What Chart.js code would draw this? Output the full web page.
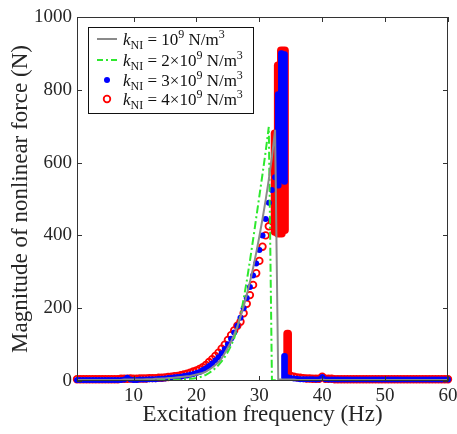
<!DOCTYPE html>
<html>
<head>
<meta charset="utf-8">
<script src="https://cdn.jsdelivr.net/npm/chart.js@4.4.1/dist/chart.umd.min.js"></script>
<style>
  html, body { margin: 0; padding: 0; background: #fff; }
  #wrap { width: 457px; height: 434px; }
</style>
</head>
<body>
<div id="wrap"><canvas id="forceChart" width="457" height="434"></canvas></div>
<script>
// excitation frequency (Hz), 0.5 Hz steps
const freq = [
  1, 1.5, 2, 2.5, 3, 3.5, 4, 4.5, 5, 5.5,
  6, 6.5, 7, 7.5, 8, 8.5, 9, 9.5, 10, 10.5,
  11, 11.5, 12, 12.5, 13, 13.5, 14, 14.5, 15, 15.5,
  16, 16.5, 17, 17.5, 18, 18.5, 19, 19.5, 20, 20.5,
  21, 21.5, 22, 22.5, 23, 23.5, 24, 24.5, 25, 25.5,
  26, 26.5, 27, 27.5, 28, 28.5, 29, 29.5, 30, 30.5,
  31, 31.5, 32, 32.5, 33, 33.5, 34, 34.5, 35, 35.5,
  36, 36.5, 37, 37.5, 38, 38.5, 39, 39.5, 40, 40.5,
  41, 41.5, 42, 42.5, 43, 43.5, 44, 44.5, 45, 45.5,
  46, 46.5, 47, 47.5, 48, 48.5, 49, 49.5, 50, 50.5,
  51, 51.5, 52, 52.5, 53, 53.5, 54, 54.5, 55, 55.5,
  56, 56.5, 57, 57.5, 58, 58.5, 59, 59.5, 60
];

// k_NI = 1e9 N/m^3 (grey line)
const force1 = [
  3, 3, 3, 3, 3, 3, 3, 3, 3, 3,
  3, 3, 3, 3, 3, 4, 4, 4, 4, 4,
  4, 4, 5, 5, 5, 6, 6, 7, 7, 8,
  8, 9, 10, 11, 12, 13, 14, 16, 18, 20,
  22, 26, 31, 37, 44, 52, 62, 76, 92, 108,
  128, 150, 176, 205, 237, 272, 310, 352, 397, 445,
  497, 553, 615, 690, 5, 4, 4, 4, 4, 4,
  3, 3, 3, 3, 3, 3, 3, 3, 4, 3,
  3, 3, 3, 3, 3, 3, 3, 3, 3, 3,
  3, 3, 3, 3, 3, 3, 3, 3, 3, 3,
  3, 3, 3, 3, 3, 3, 3, 3, 3, 3,
  3, 3, 3, 3, 3, 3, 3, 3, 3
];

// k_NI = 2e9 N/m^3 (green dash-dot)
const force2 = [
  2, 2, 2, 2, 2, 2, 2, 2, 2, 2,
  2, 2, 2, 2, 2, 2, 2, 2, 2, 2,
  2, 2, 2, 2, 2, 2, 3, 3, 3, 3,
  3, 3, 4, 4, 5, 5, 6, 7, 8, 10,
  13, 17, 22, 28, 35, 44, 54, 66, 80, 97,
  118, 148, 180, 225, 275, 330, 388, 448, 508, 568,
  630, 698, 3, 2, 2, 2, 2, 2, 2, 2,
  2, 2, 2, 2, 2, 2, 2, 2, 2, 2,
  2, 2, 2, 2, 2, 2, 2, 2, 2, 2,
  2, 2, 2, 2, 2, 2, 2, 2, 2, 2,
  2, 2, 2, 2, 2, 2, 2, 2, 2, 2,
  2, 2, 2, 2, 2, 2, 2, 2, 2
];

// k_NI = 3e9 N/m^3 (blue dots), null where the jump band is drawn
const force3 = [
  3, 3, 3, 3, 3, 3, 3, 3, 3, 3,
  3, 3, 3, 3, 3, 4, 9, 4, 3, 3,
  4, 4, 4, 5, 5, 5, 6, 6, 7, 8,
  9, 10, 11, 12, 14, 15, 17, 19, 22, 25,
  30, 35, 41, 48, 56, 65, 76, 88, 101, 116,
  133, 152, 174, 200, 228, 258, 290, 323, 360, 400,
  445, 490, 525, 560, null, null, null, 10, 8, 7,
  6, 5, 5, 5, 5, 5, 4, 5, 11, 5,
  4, 4, 4, 4, 4, 4, 4, 4, 4, 4,
  4, 4, 4, 4, 4, 4, 4, 4, 4, 4,
  4, 4, 4, 4, 4, 4, 4, 4, 4, 4,
  4, 4, 4, 4, 4, 4, 4, 4, 4
];

// k_NI = 4e9 N/m^3 (red open circles)
const force4 = [
  5, 5, 5, 5, 5, 5, 5, 5, 5, 5,
  5, 5, 5, 5, 6, 6, 6, 7, 6, 6,
  7, 7, 7, 8, 8, 8, 9, 9, 10, 11,
  12, 13, 14, 16, 18, 20, 23, 26, 29, 33,
  38, 44, 52, 60, 69, 78, 89, 100, 113, 126,
  139, 152, 163, 186, 212, 236, 264, 296, 330, 369,
  400, 425, 440, null, null, null, null, null, 14, 12,
  10, 9, 8, 7, 7, 6, 6, 6, 12, 6,
  6, 6, 5, 5, 5, 5, 5, 5, 5, 5,
  5, 5, 5, 5, 5, 5, 5, 5, 5, 5,
  5, 5, 5, 5, 5, 5, 5, 5, 5, 5,
  5, 5, 5, 5, 5, 5, 5, 5, 5
];

// jump region: range of values stacked at one frequency
const band3Freq = [33, 33.5, 34, 34];
const band3Low = [530, 545, 540, 2];
const band3High = [795, 908, 905, 76];
const band4Freq = [32.5, 33, 33.5, 34, 34.5];
const band4Low = [400, 395, 395, 405, 2];
const band4High = [690, 877, 918, 918, 140];

const xTicks = [10, 20, 30, 40, 50, 60];
const yTicks = [0, 200, 400, 600, 800, 1000];
const legendCoef = ['', '2\u00d7', '3\u00d7', '4\u00d7'];

const serif = "'Liberation Serif', 'Times New Roman', serif";
const GREY = '#8a8a8a', GREEN = '#2ee82e', BLUE = '#0000ff', RED = '#ff0000';
Chart.defaults.font.family = serif;
Chart.defaults.color = '#262626';

const pairs = vals => freq.map((f, i) => ({ x: f, y: vals[i] }));
const ranges = (fs, lo, hi) => fs.map((f, i) => ({ x: f, y: [lo[i], hi[i]] }));

// box, inward ticks and the legend with sub/superscripts
const framePlugin = {
  id: 'frame',
  afterDatasetsDraw(chart) {
    const { ctx, chartArea: a, scales: { x, y } } = chart;
    ctx.save();
    ctx.strokeStyle = '#333';
    ctx.lineWidth = 1;
    ctx.strokeRect(a.left + 0.5, a.top + 0.5, a.right - a.left - 1, a.bottom - a.top - 1);
    ctx.beginPath();
    xTicks.forEach(v => {
      const p = Math.round(x.getPixelForValue(v)) + 0.5;
      ctx.moveTo(p, a.bottom); ctx.lineTo(p, a.bottom - 5);
      ctx.moveTo(p, a.top); ctx.lineTo(p, a.top + 5);
    });
    yTicks.forEach(v => {
      const p = Math.round(y.getPixelForValue(v)) + 0.5;
      ctx.moveTo(a.left, p); ctx.lineTo(a.left + 5, p);
      ctx.moveTo(a.right, p); ctx.lineTo(a.right - 5, p);
    });
    ctx.stroke();
    ctx.restore();
  },
  afterDraw(chart) {
    const ctx = chart.ctx;
    const bx = 88, by = 27, bw = 165, bh = 86;
    ctx.save();
    ctx.fillStyle = '#fff';
    ctx.fillRect(bx, by, bw, bh);
    ctx.strokeStyle = '#111';
    ctx.lineWidth = 1;
    ctx.strokeRect(bx + 0.5, by + 0.5, bw, bh);
    const rows = [39, 60, 80, 99];
    rows.forEach((ry, i) => {
      ctx.save();
      if (i === 0 || i === 1) {
        ctx.strokeStyle = i === 0 ? GREY : GREEN;
        ctx.lineWidth = 2;
        ctx.setLineDash(i === 0 ? [] : [6, 3, 2, 3]);
        ctx.beginPath(); ctx.moveTo(97, ry); ctx.lineTo(117, ry); ctx.stroke();
      } else if (i === 2) {
        ctx.fillStyle = BLUE;
        ctx.beginPath(); ctx.arc(107, ry, 3, 0, Math.PI * 2); ctx.fill();
      } else {
        ctx.strokeStyle = RED; ctx.lineWidth = 1.8;
        ctx.beginPath(); ctx.arc(107, ry, 3.3, 0, Math.PI * 2); ctx.stroke();
      }
      ctx.restore();
      const parts = [
        { t: 'k', f: 'italic 17px', dy: 0 },
        { t: 'NI', f: '12px', dy: 4 },
        { t: ' = ' + legendCoef[i] + '10', f: '17px', dy: 0 },
        { t: '9', f: '12px', dy: -7 },
        { t: ' N/m', f: '17px', dy: 0 },
        { t: '3', f: '12px', dy: -7 }
      ];
      let tx = 123;
      ctx.fillStyle = '#111';
      ctx.textBaseline = 'alphabetic';
      parts.forEach(p => {
        ctx.font = p.f + ' ' + serif;
        ctx.fillText(p.t, tx, ry + 6 + p.dy);
        tx += ctx.measureText(p.t).width;
      });
    });
    ctx.restore();
  }
};

new Chart(document.getElementById('forceChart'), {
  type: 'scatter',
  data: {
    datasets: [
      {
        label: 'k_NI = 10^9 N/m^3',
        data: pairs(force1),
        showLine: true,
        borderColor: GREY,
        borderWidth: 2,
        pointRadius: 0,
        order: 0
      },
      {
        label: 'k_NI = 2x10^9 N/m^3',
        data: pairs(force2),
        showLine: true,
        borderColor: GREEN,
        borderWidth: 2,
        borderDash: [8, 3, 2, 3],
        pointRadius: 0,
        order: 1
      },
      {
        type: 'bar',
        label: 'band 3',
        data: ranges(band3Freq, band3Low, band3High),
        backgroundColor: BLUE,
        barThickness: 6,
        grouped: false,
        borderRadius: 3,
        borderSkipped: false,
        order: 2
      },
      {
        label: 'k_NI = 3x10^9 N/m^3',
        data: pairs(force3),
        backgroundColor: BLUE,
        borderWidth: 0,
        pointRadius: 3,
        clip: 8,
        order: 3
      },
      {
        label: 'k_NI = 4x10^9 N/m^3',
        data: pairs(force4),
        backgroundColor: 'rgba(0,0,0,0)',
        borderColor: RED,
        borderWidth: 1.8,
        pointRadius: 3.3,
        clip: 8,
        order: 4
      },
      {
        type: 'bar',
        label: 'band 4',
        data: ranges(band4Freq, band4Low, band4High),
        backgroundColor: RED,
        barThickness: 8,
        grouped: false,
        borderRadius: 4,
        borderSkipped: false,
        order: 5
      }
    ]
  },
  options: {
    responsive: false,
    animation: false,
    layout: { padding: { top: 17, right: 9, left: 0, bottom: 0 } },
    plugins: { legend: { display: false }, tooltip: { enabled: false } },
    scales: {
      x: {
        type: 'linear',
        min: 1,
        max: 60,
        offset: false,
        grid: { display: false, drawTicks: false },
        border: { display: false },
        afterBuildTicks: s => { s.ticks = xTicks.map(v => ({ value: v })); },
        afterFit: s => { s.height = 53; s.paddingLeft = 0; s.paddingRight = 0; },
        ticks: { font: { family: serif, size: 19 }, padding: 4, maxRotation: 0, callback: v => String(v) },
        title: {
          display: true,
          text: 'Excitation frequency (Hz)',
          font: { family: serif, size: 23 },
          padding: { top: 0, bottom: 5 }
        }
      },
      y: {
        type: 'linear',
        min: 0,
        max: 1000,
        grid: { display: false, drawTicks: false },
        border: { display: false },
        afterBuildTicks: s => { s.ticks = yTicks.map(v => ({ value: v })); },
        afterFit: s => { s.width = 77; },
        ticks: { font: { family: serif, size: 19 }, padding: 5, callback: v => String(v) },
        title: {
          display: true,
          text: 'Magnitude of nonlinear force (N)',
          font: { family: serif, size: 23 },
          padding: { top: 7, bottom: 0 }
        }
      }
    }
  },
  plugins: [framePlugin]
});
</script>
</body>
</html>
